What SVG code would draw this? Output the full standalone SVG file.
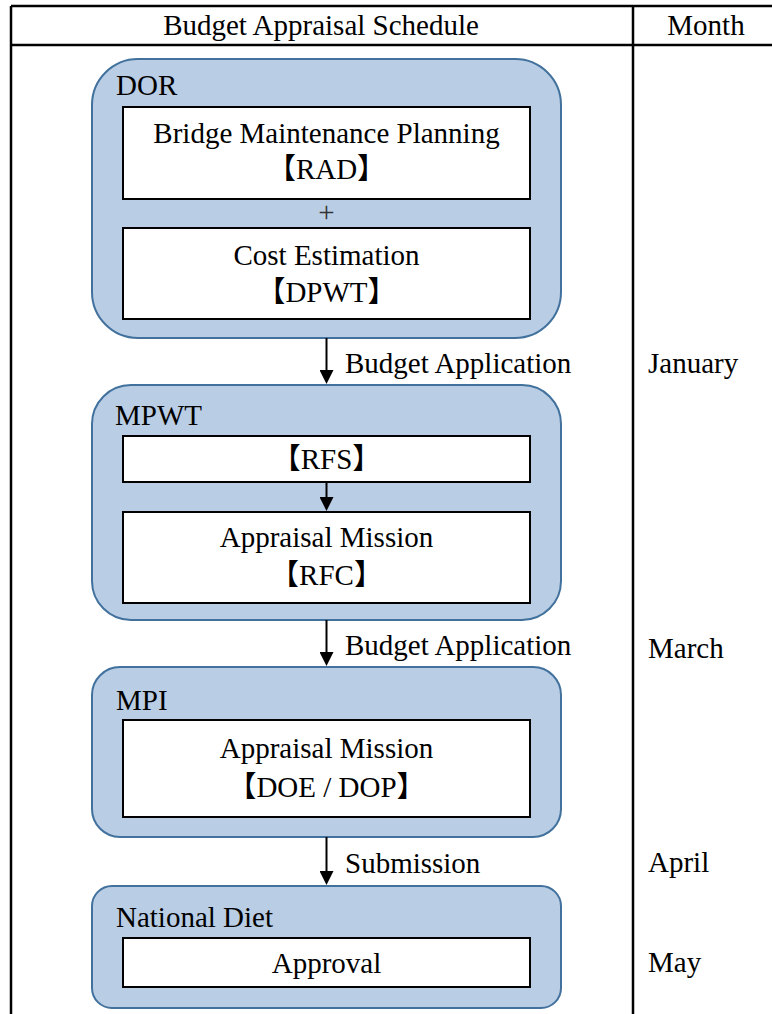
<svg xmlns="http://www.w3.org/2000/svg" width="772" height="1014" viewBox="0 0 772 1014">
<defs>
<style>
.c{text-anchor:middle}
.outer{fill:#B9CDE5;stroke:#41719C;stroke-width:2}
.inner{fill:#fff;stroke:#000;stroke-width:2}
.grid{stroke:#000;stroke-width:2.5;fill:none}
.conn{stroke:#000;stroke-width:2;fill:none}
</style>
<marker id="ah" viewBox="0 0 14 14" markerUnits="userSpaceOnUse" markerWidth="14" markerHeight="14" refX="10" refY="7" orient="auto">
<path d="M0,0 L14,7 L0,14 z" fill="#000"/>
</marker>
</defs>
<g id="table" font-family="Liberation Serif, serif" font-size="29">
<line class="grid" x1="11" y1="6" x2="772" y2="6"/>
<line class="grid" x1="11" y1="45" x2="772" y2="45"/>
<line class="grid" x1="11" y1="6" x2="11" y2="1014"/>
<line class="grid" x1="633" y1="6" x2="633" y2="1014"/>
<text class="c" x="321" y="35" font-family="Liberation Serif, serif">Budget Appraisal Schedule</text>
<text class="c" x="706" y="35" font-family="Liberation Serif, serif">Month</text>
<text x="648" y="373" font-family="Liberation Serif, serif">January</text>
<text x="648" y="658" font-family="Liberation Serif, serif">March</text>
<text x="648" y="872" font-family="Liberation Serif, serif">April</text>
<text x="648" y="972" font-family="Liberation Serif, serif">May</text>
</g>
<g id="dor" font-family="Liberation Serif, serif" font-size="29">
<rect class="outer" x="92" y="59" width="469" height="279" rx="46"/>
<text x="116" y="95" font-family="Liberation Serif, serif">DOR</text>
<rect class="inner" x="123" y="107" width="407" height="92"/>
<text class="c" x="326.5" y="143" font-family="Liberation Serif, serif">Bridge Maintenance Planning</text>
<text class="c" x="326.5" y="179" font-family="Liberation Serif, Noto Sans CJK JP, serif">【RAD】</text>
<text class="c" x="326.5" y="222" fill="#333" font-family="Liberation Serif, serif">+</text>
<rect class="inner" x="123" y="228" width="407" height="91"/>
<text class="c" x="326.5" y="265" font-family="Liberation Serif, serif">Cost Estimation</text>
<text class="c" x="326.5" y="302" font-family="Liberation Serif, Noto Sans CJK JP, serif">【DPWT】</text>
</g>
<g id="mpwt" font-family="Liberation Serif, serif" font-size="29">
<rect class="outer" x="92" y="385" width="469" height="235" rx="39"/>
<text x="115" y="425" font-family="Liberation Serif, serif">MPWT</text>
<rect class="inner" x="123" y="436" width="407" height="46"/>
<text class="c" x="326.5" y="469" font-family="Liberation Serif, Noto Sans CJK JP, serif">【RFS】</text>
<rect class="inner" x="123" y="512" width="407" height="91"/>
<text class="c" x="326.5" y="547" font-family="Liberation Serif, serif">Appraisal Mission</text>
<text class="c" x="326.5" y="585" font-family="Liberation Serif, Noto Sans CJK JP, serif">【RFC】</text>
</g>
<g id="mpi" font-family="Liberation Serif, serif" font-size="29">
<rect class="outer" x="92" y="667" width="469" height="170" rx="28"/>
<text x="116" y="710" font-family="Liberation Serif, serif">MPI</text>
<rect class="inner" x="123" y="720" width="407" height="97"/>
<text class="c" x="326.5" y="758" font-family="Liberation Serif, serif">Appraisal Mission</text>
<text class="c" x="326.5" y="797" font-family="Liberation Serif, Noto Sans CJK JP, serif">【DOE / DOP】</text>
</g>
<g id="diet" font-family="Liberation Serif, serif" font-size="29">
<rect class="outer" x="92" y="886" width="469" height="122" rx="20"/>
<text x="116" y="927" font-family="Liberation Serif, serif">National Diet</text>
<rect class="inner" x="123" y="938" width="407" height="49"/>
<text class="c" x="326.5" y="973" font-family="Liberation Serif, serif">Approval</text>
</g>
<g id="connectors" font-family="Liberation Serif, serif" font-size="29">
<line class="conn" x1="326.5" y1="338" x2="326.5" y2="380" marker-end="url(#ah)"/>
<text x="345" y="373" font-family="Liberation Serif, serif">Budget Application</text>
<line class="conn" x1="326.5" y1="483" x2="326.5" y2="507" marker-end="url(#ah)"/>
<line class="conn" x1="326.5" y1="620" x2="326.5" y2="662" marker-end="url(#ah)"/>
<text x="345" y="655" font-family="Liberation Serif, serif">Budget Application</text>
<line class="conn" x1="326.5" y1="837" x2="326.5" y2="881" marker-end="url(#ah)"/>
<text x="345" y="873" font-family="Liberation Serif, serif">Submission</text>
</g>
</svg>
